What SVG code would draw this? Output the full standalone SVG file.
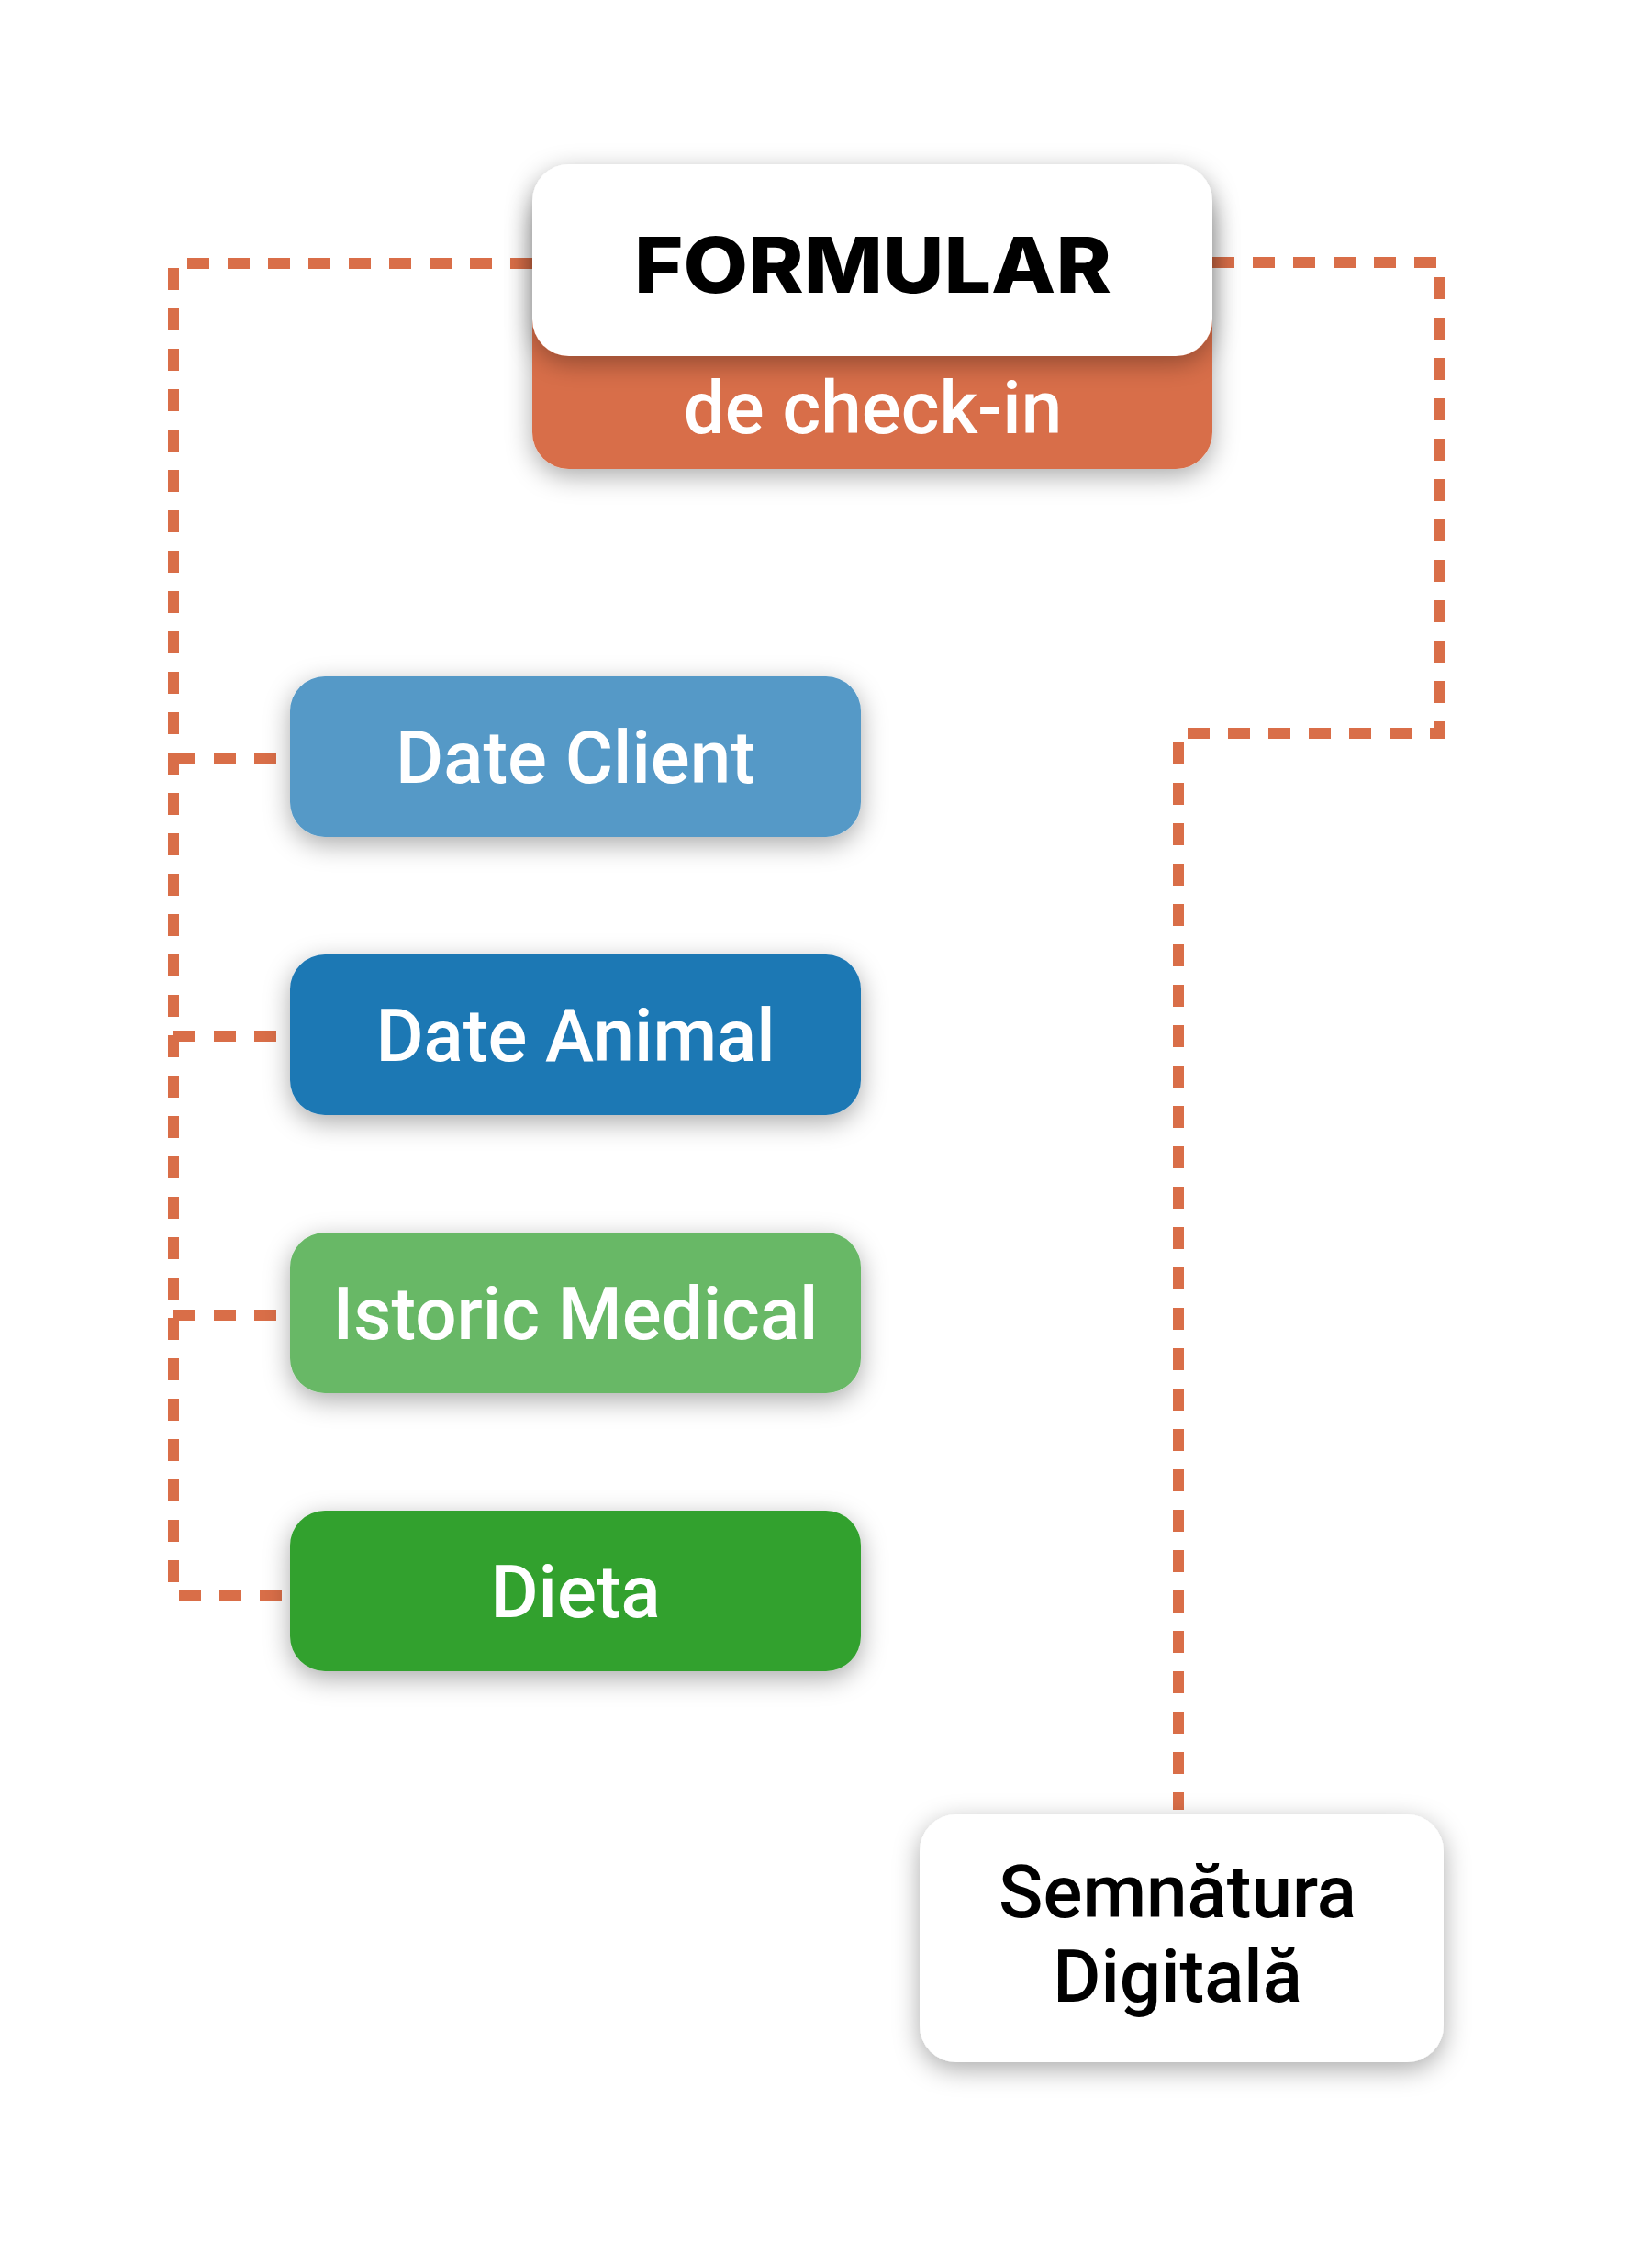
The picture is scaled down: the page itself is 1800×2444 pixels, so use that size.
<svg xmlns="http://www.w3.org/2000/svg" width="1800" height="2444" viewBox="0 0 1800 2444">
  <defs>
    <filter id="sh" x="-20%" y="-40%" width="140%" height="190%">
      <feDropShadow dx="0" dy="8" stdDeviation="14" flood-color="#000" flood-opacity="0.33"/>
    </filter>
    <style>
      .conn { fill: none; stroke: #D96E48; stroke-width: 12; stroke-dasharray: 24 20; }
      .lbl { font-family: Roboto, "Liberation Sans", sans-serif; font-weight: 500; font-size: 80px; text-anchor: middle; fill: #ffffff; }
      .dark { fill: #000000; }
      .title { font-family: Inter, "DejaVu Sans", sans-serif; font-weight: 800; font-size: 84px; text-anchor: middle; fill: #000000; }
    </style>
  </defs>
  <rect width="1800" height="2444" fill="#ffffff"/>

  <g id="connectors">
    <path class="conn" d="M580 287 H189 V1738 H316"/>
    <path class="conn" d="M189 826 H316"/>
    <path class="conn" d="M189 1129 H316"/>
    <path class="conn" d="M189 1433 H316"/>
    <path class="conn" d="M1321 286 H1569 V799 H1284 V1972"/>
  </g>

  <g id="formular">
    <rect x="580" y="200" width="741" height="311" rx="40" fill="#D86E48" filter="url(#sh)"/>
    <rect x="580" y="179" width="741" height="209" rx="40" fill="#ffffff" filter="url(#sh)"/>
    <text class="title" x="951" y="319" textLength="520" lengthAdjust="spacingAndGlyphs">FORMULAR</text>
    <text class="lbl" x="951" y="472" font-size="82">de check-in</text>
  </g>

  <g id="date-client">
    <rect x="316" y="737" width="622" height="175" rx="38" fill="#5599C7" filter="url(#sh)"/>
    <text class="lbl" x="627" y="853">Date Client</text>
  </g>

  <g id="date-animal">
    <rect x="316" y="1040" width="622" height="175" rx="38" fill="#1F78B4" filter="url(#sh)"/>
    <text class="lbl" x="627" y="1156">Date Animal</text>
  </g>

  <g id="istoric-medical">
    <rect x="316" y="1343" width="622" height="175" rx="38" fill="#67B866" filter="url(#sh)"/>
    <text class="lbl" x="627" y="1459">Istoric Medical</text>
  </g>

  <g id="dieta">
    <rect x="316" y="1646" width="622" height="175" rx="38" fill="#33A12F" filter="url(#sh)"/>
    <text class="lbl" x="627" y="1762">Dieta</text>
  </g>

  <g id="semnatura">
    <rect x="1002" y="1977" width="571" height="270" rx="40" fill="#ffffff" filter="url(#sh)"/>
    <text class="lbl dark" x="1283" y="2089">Semnătura</text>
    <text class="lbl dark" x="1283" y="2181">Digitală</text>
  </g>
</svg>
